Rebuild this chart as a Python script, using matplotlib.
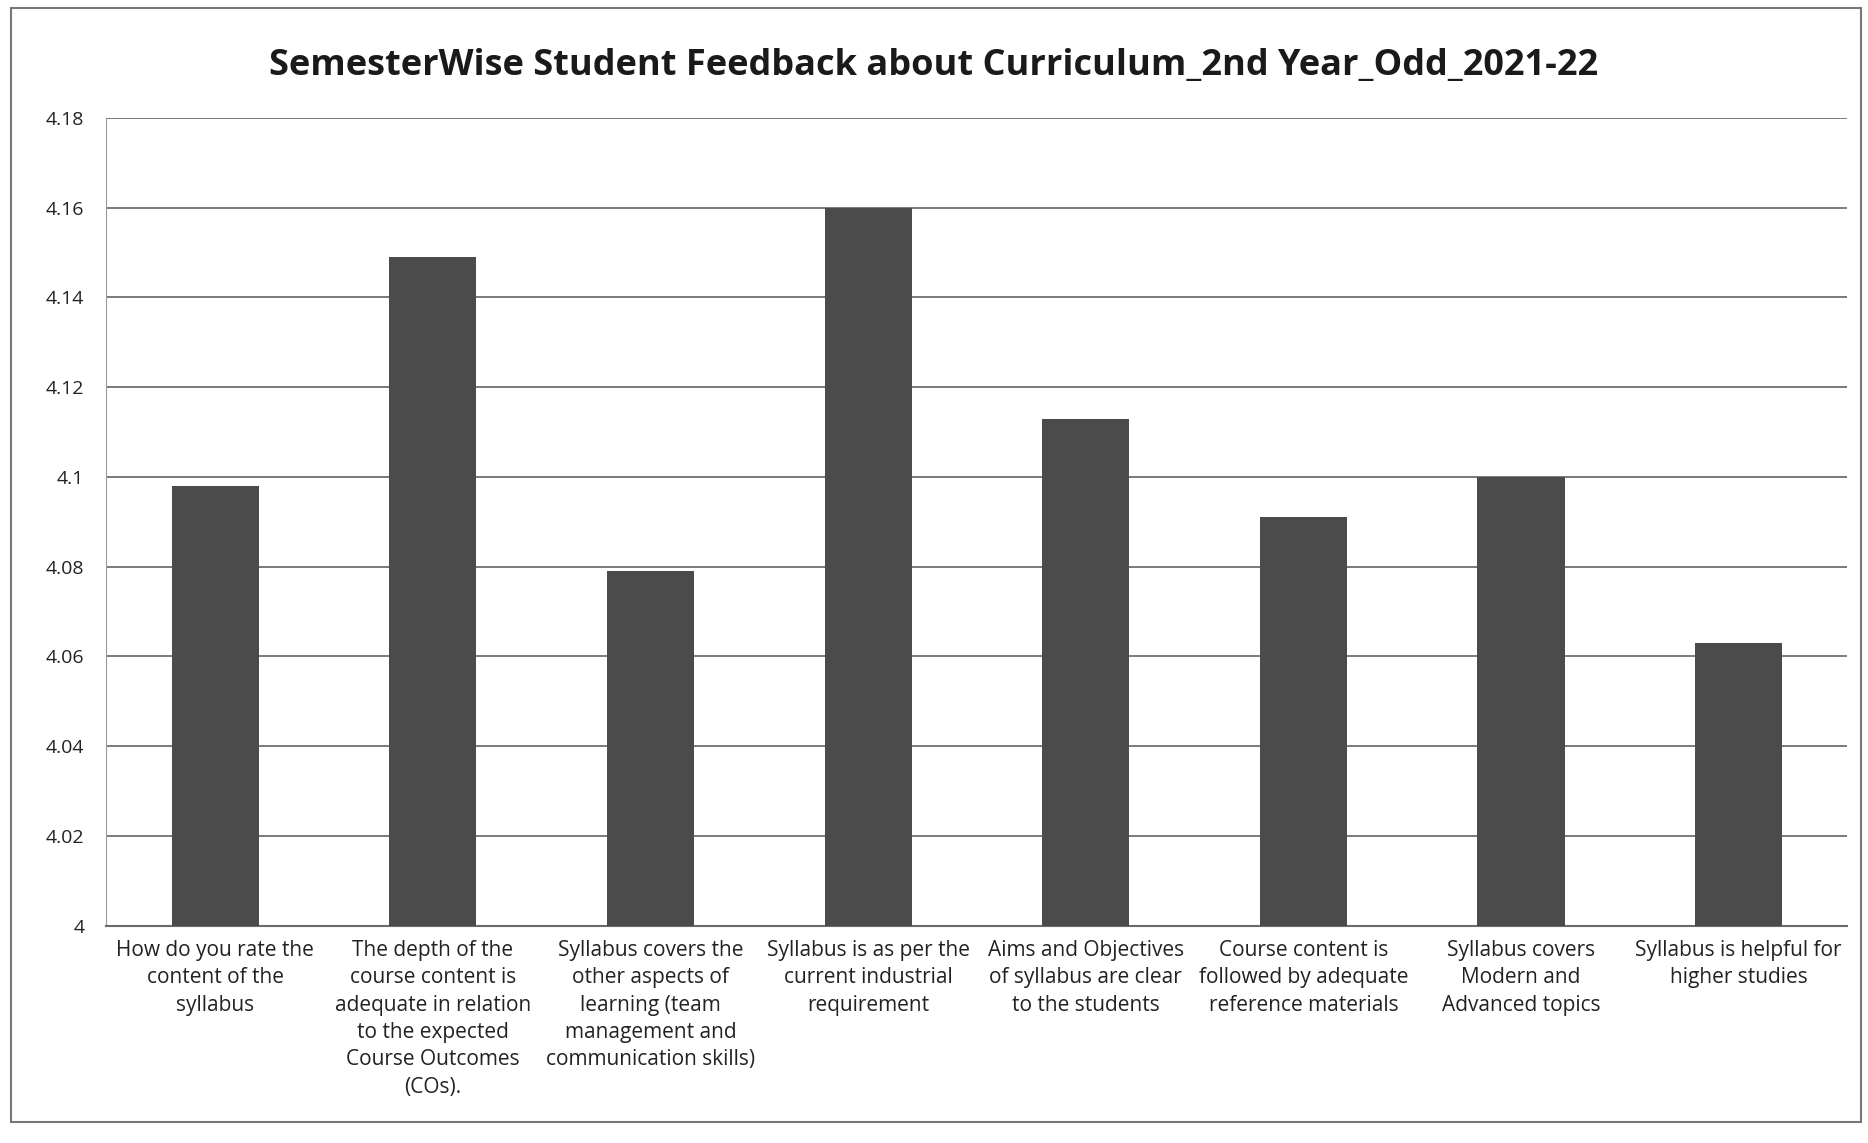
import matplotlib.pyplot as plt
from matplotlib.patches import Rectangle

# data
categories = [
    "How do you rate the\ncontent of the\nsyllabus",
    "The depth of the\ncourse content is\nadequate in relation\nto the expected\nCourse Outcomes\n(COs).",
    "Syllabus covers the\nother aspects of\nlearning (team\nmanagement and\ncommunication skills)",
    "Syllabus is as per the\ncurrent industrial\nrequirement",
    "Aims and Objectives\nof syllabus are clear\nto the students",
    "Course content is\nfollowed by adequate\nreference materials",
    "Syllabus covers\nModern and\nAdvanced topics",
    "Syllabus is helpful for\nhigher studies",
]
scores = [4.098, 4.149, 4.079, 4.160, 4.113, 4.091, 4.100, 4.063]
y_ticks = [4, 4.02, 4.04, 4.06, 4.08, 4.1, 4.12, 4.14, 4.16, 4.18]
y_labels = ["4", "4.02", "4.04", "4.06", "4.08", "4.1", "4.12", "4.14", "4.16", "4.18"]
title = "SemesterWise Student Feedback about Curriculum_2nd Year_Odd_2021-22"

plt.rcParams['font.family'] = ['Open Sans', 'DejaVu Sans']

fig = plt.figure(figsize=(18.68, 11.43), dpi=100)
ax = fig.add_axes([0.057, 0.19, 0.932, 0.707])

x = range(len(categories))
ax.bar(x, scores, width=0.4, color='#4b4b4b', zorder=3)

ax.set_ylim(4, 4.18)
ax.set_xlim(-0.5, len(categories) - 0.5)
ax.set_yticks(y_ticks)
ax.set_yticklabels(y_labels, fontsize=14, color='#222222')
ax.set_xticks(list(x))
ax.set_xticklabels(categories, fontsize=15, color='#222222', linespacing=1.4)
ax.tick_params(axis='both', length=0)
ax.tick_params(axis='y', pad=16)
ax.tick_params(axis='x', pad=10)

ax.grid(axis='y', color='#7a7a7a', linewidth=1.4, zorder=0)
for side in ['top', 'right']:
    ax.spines[side].set_visible(False)
ax.spines['left'].set_color('#9a9a9a')
ax.spines['bottom'].set_color('#6a6a6a')
ax.spines['bottom'].set_linewidth(1.5)

fig.text(0.5, 0.942, title, ha='center', va='center', fontsize=26,
         fontweight='bold', color='#1a1a1a')

# chart box outline
fig.patches.append(Rectangle((0.006, 0.018), 0.99, 0.975, transform=fig.transFigure,
                             fill=False, edgecolor='#777777', linewidth=1.5))

fig.savefig('out.png', dpi=100, facecolor='white')
